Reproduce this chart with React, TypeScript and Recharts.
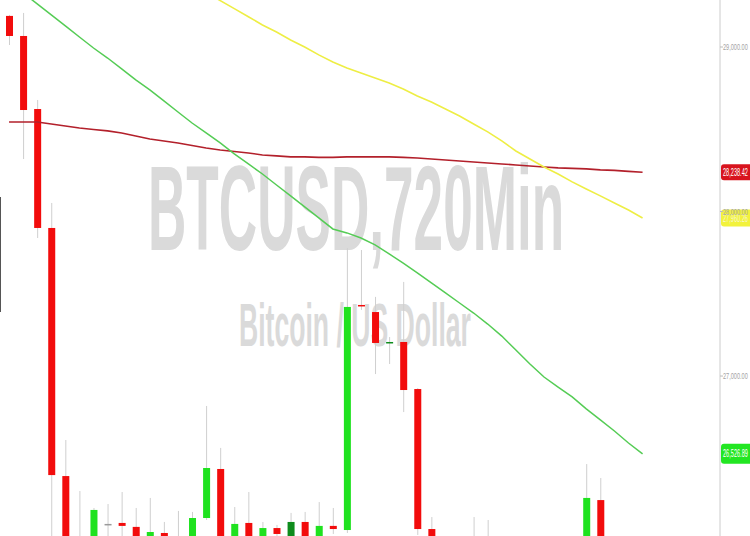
import React from 'react';
import { ComposedChart, Bar, Line, XAxis, YAxis, ReferenceLine } from 'recharts';

// ---- data ----
const CANDLE_OPEN = [29189, 29067, 28623, 27900, 26392, 25935, 25900, 26101, 26107, 26083, 25990, 26046, 25985, 25990, 26137, 26435, 25970, 26107, 26005, 26076, 26000, 26113, 26000, 26089, 26064, 27432, 27389, 27201, 27207, 26921, 26070, 25950, 25880, 25900, 25960, 25930, 25880, 25850, 25900, 25870, 25830, 25980, 26246, 25960, 25900, 25850];
const CANDLE_HIGH = [29195, 29207, 28678, 28052, 26611, 26301, 26198, 26222, 26295, 26198, 26259, 26113, 26180, 26174, 26818, 26563, 26204, 26295, 26113, 26095, 26168, 26174, 26234, 26198, 27778, 27766, 27481, 27237, 27572, 26927, 26143, 26010, 25990, 26143, 26125, 26000, 25960, 25950, 25990, 25960, 26000, 26465, 26380, 26010, 25990, 25950];
const CANDLE_LOW = [29012, 28319, 27839, 25960, 25850, 25820, 25870, 25990, 26000, 25950, 25960, 25960, 25950, 25960, 26125, 25900, 25940, 25960, 25980, 26020, 25975, 25960, 25980, 26040, 26046, 27402, 27012, 27073, 26781, 26034, 25900, 25830, 25800, 25860, 25900, 25850, 25800, 25790, 25840, 25800, 25800, 25950, 25900, 25850, 25800, 25780];
const CANDLE_CLOSE = [29067, 28617, 27900, 26398, 25930, 25880, 26186, 26101, 26089, 25980, 26052, 25995, 26005, 26137, 26441, 25960, 26101, 26000, 26076, 26040, 26113, 25995, 26089, 26070, 27420, 27426, 27201, 27207, 26915, 26070, 25950, 25880, 25900, 25960, 25930, 25880, 25850, 25900, 25870, 25830, 25980, 26259, 25960, 25900, 25850, 25900];

// green moving average (fast)
const MA_FAST = [29395, 29329, 29262, 29195, 29128, 29061, 28994, 28933, 28867, 28800, 28739, 28672, 28605, 28538, 28478, 28417, 28350, 28289, 28228, 28161, 28095, 28028, 27961, 27894, 27870, 27839, 27797, 27742, 27687, 27627, 27566, 27505, 27444, 27383, 27316, 27243, 27158, 27073, 26994, 26933, 26873, 26800, 26733, 26666, 26593, 26526.89];
// yellow moving average (mid)
const MA_MID = [30058, 30003, 29955, 29900, 29851, 29797, 29748, 29693, 29645, 29590, 29541, 29487, 29438, 29383, 29332, 29282, 29233, 29184, 29134, 29091, 29043, 29000, 28952, 28909, 28873, 28842, 28812, 28781, 28745, 28702, 28666, 28623, 28581, 28532, 28484, 28429, 28368, 28319, 28271, 28228, 28180, 28137, 28095, 28052, 28009, 27960.26];
// red moving average (slow)
const MA_SLOW = [28544, 28544, 28544, 28532, 28520, 28508, 28499, 28490, 28477, 28459, 28441, 28429, 28417, 28401, 28386, 28374, 28365, 28356, 28344, 28338, 28332, 28332, 28329, 28329, 28332, 28332, 28332, 28332, 28329, 28325, 28319, 28313, 28307, 28301, 28295, 28289, 28283, 28277, 28271, 28265, 28262, 28259, 28253, 28250, 28244, 28238.42];

const Y_TICKS = [26000, 27000, 28000, 29000];
const EMPTY_SLOTS = 5;
const TITLE = 'BTCUSD,720Min';
const SUBTITLE = 'Bitcoin / US Dollar';

// ---- styles ----
const RED = '#f20c0c';
const GREEN = '#1fe21f';
const DARK_GREEN = '#0e8c1c';
const WICK = '#cfcfcf';
const DARK_GREEN_IDX = new Set([20, 27]);
const NARROW_FONT = "'Liberation Sans', Arial, sans-serif";

const N = CANDLE_OPEN.length;
const data = Array.from({ length: N + EMPTY_SLOTS }, (_, i) =>
  i < N
    ? {
        idx: i,
        open: CANDLE_OPEN[i],
        high: CANDLE_HIGH[i],
        low: CANDLE_LOW[i],
        close: CANDLE_CLOSE[i],
        range: [CANDLE_LOW[i], CANDLE_HIGH[i]],
        maFast: MA_FAST[i],
        maMid: MA_MID[i],
        maSlow: MA_SLOW[i],
      }
    : { idx: i }
);

const fmt = (v: number) =>
  v.toLocaleString('en-US', { minimumFractionDigits: 2, maximumFractionDigits: 2 });

const Candle = (props: any) => {
  const { x, y, width, height, payload } = props;
  if (!payload || payload.open == null) return null;
  const top = Math.min(y, y + height);
  const h = Math.abs(height);
  const span = payload.high - payload.low;
  const ppu = span > 0 ? h / span : 0;
  const py = (v: number) => top + (payload.high - v) * ppu;
  const cx = x + width / 2;
  const bTop = py(Math.max(payload.open, payload.close));
  const bBot = py(Math.min(payload.open, payload.close));
  let color = payload.close > payload.open ? GREEN : payload.close < payload.open ? RED : '#9a9a9a';
  if (DARK_GREEN_IDX.has(payload.idx)) color = DARK_GREEN;
  const bh = Math.max(bBot - bTop, 1.5);
  return (
    <g>
      <line x1={cx} x2={cx} y1={top} y2={top + h} stroke={WICK} strokeWidth={1} />
      <rect x={x} y={bTop} width={width} height={bh} fill={color} />
    </g>
  );
};

// narrow numeric label: regular font squeezed horizontally
const NarrowNumber = ({ x, y, value, fill, size, sx }: any) => (
  <text
    transform={`translate(${x},${y}) scale(${sx},1)`}
    x={0}
    y={0}
    dy={size * 0.35}
    fontSize={size}
    fill={fill}
    fontFamily={NARROW_FONT}
    textAnchor="start"
  >
    {fmt(value)}
  </text>
);

const PriceTick = (props: any) => {
  const { x, y, payload } = props;
  return <NarrowNumber x={x} y={y} value={payload.value} fill="#a3a3a3" size={9} sx={0.62} />;
};

const PriceTag = (props: any) => {
  const { viewBox, bg, fg, value, h } = props;
  if (!viewBox) return null;
  const left = viewBox.x + viewBox.width + 1;
  const cy = viewBox.y;
  const w = 30;
  const r = 3;
  const t = cy - h / 2;
  const d = `M${left + r},${t} H${left + w} V${t + h} H${left + r} Q${left},${t + h} ${left},${t + h - r} V${t + r} Q${left},${t} ${left + r},${t} Z`;
  return (
    <g>
      <path d={d} fill={bg} />
      <NarrowNumber x={left + 2} y={cy} value={value} fill={fg} size={10} sx={0.56} />
    </g>
  );
};

export default function App() {
  const last = N - 1;
  return (
    <div
      style={{
        position: 'fixed',
        left: 0,
        top: 0,
        width: 750,
        height: 536,
        overflow: 'hidden',
        background: '#ffffff',
      }}
    >
      <svg width={750} height={536} style={{ position: 'absolute', left: 0, top: 0 }}>
        <text
          transform="translate(148,250) scale(0.439,1)"
          fontSize={121}
          fontWeight="bold"
          fill="#dadada"
          fontFamily="'Liberation Sans', Arial, sans-serif"
        >
          {TITLE}
        </text>
        <text
          transform="translate(239,346) scale(0.436,1)"
          fontSize={61}
          fontWeight="bold"
          fill="#dadada"
          fontFamily="'Liberation Sans', Arial, sans-serif"
        >
          {SUBTITLE}
        </text>
      </svg>
      <div
        style={{ position: 'absolute', left: 0, top: 197, width: 1, height: 115, background: '#555' }}
      />
      <div style={{ position: 'absolute', left: 0, top: 0 }}>
        <ComposedChart
          width={750}
          height={552}
          data={data}
          margin={{ top: 0, right: 0, bottom: 0, left: 2 }}
        >
          <XAxis dataKey="idx" type="category" hide />
          <YAxis
            orientation="right"
            width={30}
            domain={[25930.4, 29285.7]}
            allowDataOverflow
            ticks={Y_TICKS}
            tick={<PriceTick />}
            tickSize={3}
            tickMargin={0}
            axisLine={{ stroke: '#cccccc' }}
            tickLine={{ stroke: '#bbbbbb' }}
          />
          <Bar dataKey="range" barSize={7} shape={<Candle />} isAnimationActive={false} />
          <Line type="linear" dataKey="maSlow" stroke="#b3202b" strokeWidth={1.6} dot={false} isAnimationActive={false} />
          <Line type="linear" dataKey="maMid" stroke="#eeee44" strokeWidth={1.6} dot={false} isAnimationActive={false} />
          <Line type="linear" dataKey="maFast" stroke="#55cc55" strokeWidth={1.5} dot={false} isAnimationActive={false} />
          <ReferenceLine
            y={MA_SLOW[last]}
            stroke="none"
            label={<PriceTag bg="#d8141e" fg="#ffffff" value={MA_SLOW[last]} h={16} />}
          />
          <ReferenceLine
            y={MA_MID[last]}
            stroke="none"
            label={<PriceTag bg="#f2f23c" fg="#f6f6d2" value={MA_MID[last]} h={17} />}
          />
          <ReferenceLine
            y={MA_FAST[last]}
            stroke="none"
            label={<PriceTag bg="#22e622" fg="#ffffff" value={MA_FAST[last]} h={20} />}
          />
        </ComposedChart>
      </div>
    </div>
  );
}
